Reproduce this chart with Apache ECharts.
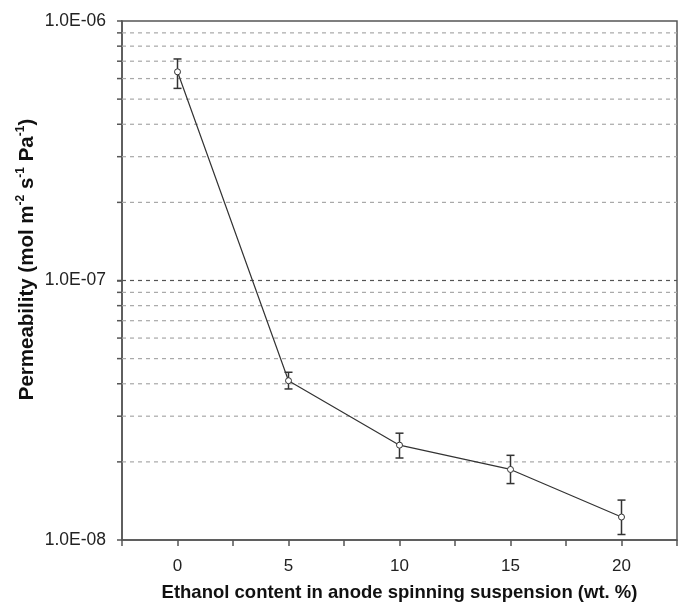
<!DOCTYPE html>
<html>
<head>
<meta charset="utf-8">
<script src="https://cdn.jsdelivr.net/npm/echarts@6/dist/echarts.min.js"></script>
<style>
html,body{margin:0;padding:0;background:#fff;}
#chart{width:686px;height:607px;}
</style>
</head>
<body>
<div id="chart"></div>
<script>
// ---- data ----
const ethanolContent = [0, 5, 10, 15, 20];
const permeability = [6.37e-7, 4.11e-8, 2.32e-8, 1.87e-8, 1.226e-8];
const errorLow = [5.5e-7, 3.82e-8, 2.07e-8, 1.65e-8, 1.05e-8];
const errorHigh = [7.14e-7, 4.43e-8, 2.58e-8, 2.12e-8, 1.425e-8];
const yTickValues = [1e-8, 1e-7, 1e-6];
const yTickLabels = ['1.0E-08', '1.0E-07', '1.0E-06'];
const xTickLabels = ['0', '5', '10', '15', '20'];
const gridValues = [2e-8, 3e-8, 4e-8, 5e-8, 6e-8, 7e-8, 8e-8, 9e-8, 1e-7,
                    2e-7, 3e-7, 4e-7, 5e-7, 6e-7, 7e-7, 8e-7, 9e-7];
const xMin = -2.5, xMax = 22.5;

const chart = echarts.init(document.getElementById('chart'), null, {renderer: 'canvas'});

const lineData = ethanolContent.map((x, i) => [x, permeability[i]]);
const errData = ethanolContent.map((x, i) => [x, errorLow[i], errorHigh[i]]);
const gridData = gridValues.map(v => [v]);

const option = {
  backgroundColor: '#fff',
  animation: false,
  grid: {
    left: 122, right: 9, top: 21, bottom: 66,
    show: true, borderColor: '#555', borderWidth: 1.5, backgroundColor: 'transparent'
  },
  xAxis: {
    type: 'value', min: xMin, max: xMax, interval: 2.5,
    name: 'Ethanol content in anode spinning suspension (wt. %)',
    nameLocation: 'middle', nameGap: 43,
    nameTextStyle: {fontFamily: 'Liberation Sans, Arial', fontSize: 18.5, fontWeight: 'bold', color: '#111'},
    axisLine: {show: true, onZero: false, lineStyle: {color: '#555', width: 1.5}},
    axisTick: {show: true, inside: false, length: 6, lineStyle: {color: '#555', width: 1.5}},
    axisLabel: {
      fontFamily: 'Liberation Sans, Arial', fontSize: 17, color: '#222', margin: 18,
      formatter: v => { const i = ethanolContent.indexOf(v); return i >= 0 ? xTickLabels[i] : ''; }
    },
    splitLine: {show: false}
  },
  yAxis: {
    type: 'log', logBase: 10, min: 1e-8, max: 1e-6,
    name: '{n|Permeability (mol m}{s|-2}{n| s}{s|-1}{n| Pa}{s|-1}{n|)}',
    nameLocation: 'middle', nameGap: 83, nameRotate: 90, nameMoveOverlap: false,
    nameTextStyle: {
      padding: [0, 0, 0, 42],
      rich: {
        n: {fontFamily: 'Liberation Sans, Arial', fontSize: 20.5, fontWeight: 'bold', color: '#111', lineHeight: 24},
        s: {fontFamily: 'Liberation Sans, Arial', fontSize: 12, fontWeight: 'bold', color: '#111', verticalAlign: 'top', lineHeight: 24, padding: [0, 0, 10, 0]}
      }
    },
    axisLine: {show: true, onZero: false, lineStyle: {color: '#555', width: 1.5}},
    axisTick: {show: true, inside: false, length: 5, lineStyle: {color: '#555', width: 1.5}},
    axisLabel: {
      fontFamily: 'Liberation Sans, Arial', fontSize: 17.5, color: '#222', margin: 16,
      formatter: v => {
        let idx = -1;
        yTickValues.forEach((t, i) => { if (Math.abs(Math.log10(v) - Math.log10(t)) < 1e-6) idx = i; });
        return idx >= 0 ? yTickLabels[idx] : '';
      }
    },
    splitLine: {show: false}
  },
  series: [
    {
      type: 'custom', name: 'gridlines', silent: true, z: 1,
      data: gridData,
      encode: {y: 0},
      renderItem: (params, api) => {
        const v = api.value(0);
        const p1 = api.coord([xMin, v]);
        const p2 = api.coord([xMax, v]);
        const major = Math.abs(Math.log10(v) - Math.round(Math.log10(v))) < 1e-6;
        return {
          type: 'group',
          children: [
            {type: 'line', shape: {x1: p1[0], y1: p1[1], x2: p2[0], y2: p2[1]},
             style: {stroke: major ? '#555' : '#a8a8a8', lineWidth: 1.2, lineDash: [4, 4]}},
            {type: 'line', shape: {x1: p1[0] - 5, y1: p1[1], x2: p1[0], y2: p1[1]},
             style: {stroke: '#555', lineWidth: 1.5}}
          ]
        };
      }
    },
    {
      type: 'custom', name: 'errorbars', silent: true, z: 3,
      data: errData,
      encode: {x: 0, y: [1, 2]},
      renderItem: (params, api) => {
        const x = api.value(0);
        const lo = api.coord([x, api.value(1)]);
        const hi = api.coord([x, api.value(2)]);
        const hw = 4;
        const st = {stroke: '#333', lineWidth: 1.5};
        return {
          type: 'group',
          children: [
            {type: 'line', shape: {x1: lo[0], y1: lo[1], x2: hi[0], y2: hi[1]}, style: st},
            {type: 'line', shape: {x1: lo[0] - hw, y1: lo[1], x2: lo[0] + hw, y2: lo[1]}, style: st},
            {type: 'line', shape: {x1: hi[0] - hw, y1: hi[1], x2: hi[0] + hw, y2: hi[1]}, style: st}
          ]
        };
      }
    },
    {
      type: 'line', name: 'Permeability', z: 4,
      data: lineData,
      symbol: 'circle', symbolSize: 6,
      lineStyle: {color: '#333', width: 1.2},
      itemStyle: {color: '#fff', borderColor: '#333', borderWidth: 1}
    }
  ]
};
chart.setOption(option);
</script>
</body>
</html>
